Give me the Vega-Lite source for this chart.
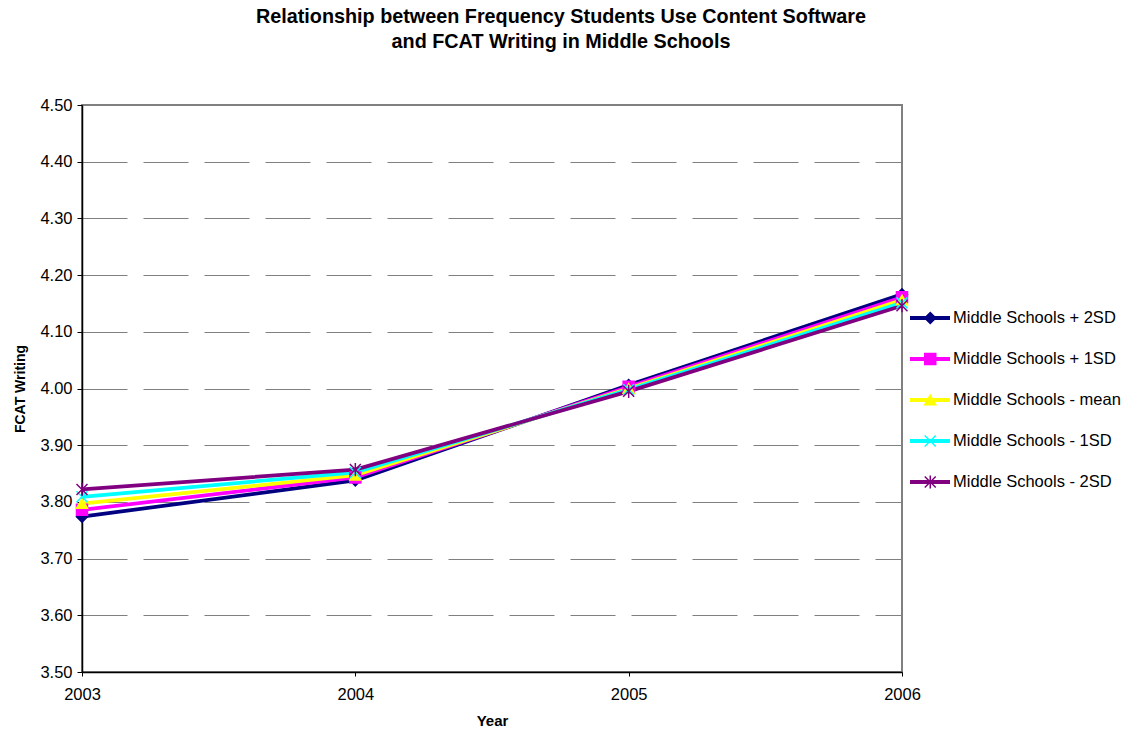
{
  "$schema": "https://vega.github.io/schema/vega-lite/v6.json",
  "autosize": {"type": "none"},
  "width": 820,
  "height": 567,
  "padding": {"left": 82, "top": 105, "right": 231, "bottom": 61},
  "background": "white",
  "config": {
    "font": "Liberation Sans",
    "view": {"stroke": "#808080", "strokeWidth": 2},
    "axis": {"labelColor": "black", "titleColor": "black", "labelFont": "Liberation Sans", "titleFont": "Liberation Sans"}
  },
  "title": {
    "text": ["Relationship between Frequency Students Use Content Software", "and FCAT Writing in Middle Schools"],
    "font": "Liberation Sans",
    "fontSize": 19.8,
    "fontWeight": "bold",
    "color": "black",
    "lineHeight": 25,
    "anchor": "middle",
    "frame": "group",
    "dx": 69,
    "offset": 45
  },
  "data": {
    "values": [
      {"series": "Middle Schools + 2SD", "order": 1, "year": 2003, "value": 3.774},
      {"series": "Middle Schools + 2SD", "order": 1, "year": 2004, "value": 3.838},
      {"series": "Middle Schools + 2SD", "order": 1, "year": 2005, "value": 4.006},
      {"series": "Middle Schools + 2SD", "order": 1, "year": 2006, "value": 4.166},
      {"series": "Middle Schools + 1SD", "order": 2, "year": 2003, "value": 3.786},
      {"series": "Middle Schools + 1SD", "order": 2, "year": 2004, "value": 3.843},
      {"series": "Middle Schools + 1SD", "order": 2, "year": 2005, "value": 4.003},
      {"series": "Middle Schools + 1SD", "order": 2, "year": 2006, "value": 4.161},
      {"series": "Middle Schools - mean", "order": 3, "year": 2003, "value": 3.797},
      {"series": "Middle Schools - mean", "order": 3, "year": 2004, "value": 3.847},
      {"series": "Middle Schools - mean", "order": 3, "year": 2005, "value": 4.0},
      {"series": "Middle Schools - mean", "order": 3, "year": 2006, "value": 4.156},
      {"series": "Middle Schools - 1SD", "order": 4, "year": 2003, "value": 3.809},
      {"series": "Middle Schools - 1SD", "order": 4, "year": 2004, "value": 3.852},
      {"series": "Middle Schools - 1SD", "order": 4, "year": 2005, "value": 3.998},
      {"series": "Middle Schools - 1SD", "order": 4, "year": 2006, "value": 4.151},
      {"series": "Middle Schools - 2SD", "order": 5, "year": 2003, "value": 3.822},
      {"series": "Middle Schools - 2SD", "order": 5, "year": 2004, "value": 3.857},
      {"series": "Middle Schools - 2SD", "order": 5, "year": 2005, "value": 3.995},
      {"series": "Middle Schools - 2SD", "order": 5, "year": 2006, "value": 4.146}
    ]
  },
  "encoding": {
    "x": {
      "field": "year",
      "type": "quantitative",
      "scale": {"domain": [2003, 2006], "nice": false, "zero": false},
      "axis": {
        "title": "Year",
        "titleFontSize": 15,
        "titleFontWeight": "bold",
        "titlePadding": 11,
        "values": [2003, 2004, 2005, 2006],
        "format": "d",
        "grid": false,
        "labelFontSize": 16.5,
        "labelPadding": 10,
        "labelFlush": false,
        "tickSize": 4,
        "tickColor": "black",
        "domainColor": "black",
        "domainWidth": 1.5
      }
    },
    "y": {
      "field": "value",
      "type": "quantitative",
      "scale": {"domain": [3.5, 4.5], "nice": false, "zero": false},
      "axis": {
        "title": "FCAT Writing",
        "titleFontSize": 14,
        "titleFontWeight": "bold",
        "titlePadding": 12,
        "values": [3.5, 3.6, 3.7, 3.8, 3.9, 4.0, 4.1, 4.2, 4.3, 4.4, 4.5],
        "format": ".2f",
        "labelFontSize": 16.5,
        "labelPadding": 5,
        "tickSize": 5,
        "tickColor": "black",
        "domainColor": "black",
        "domainWidth": 1.5,
        "grid": true,
        "gridColor": "#808080",
        "gridDash": [45, 16],
        "gridWidth": 1
      }
    }
  },
  "layer": [
    {
      "mark": {"type": "line", "strokeWidth": 3.75},
      "encoding": {
        "color": {
          "field": "series",
          "type": "nominal",
          "scale": {
            "domain": ["Middle Schools + 2SD", "Middle Schools + 1SD", "Middle Schools - mean", "Middle Schools - 1SD", "Middle Schools - 2SD"],
            "range": ["#000080", "#FF00FF", "#FFFF00", "#00FFFF", "#800080"]
          },
          "legend": {
            "title": null,
            "orient": "none",
            "legendX": 826,
            "legendY": 205,
            "padding": 0,
            "symbolType": "stroke",
            "symbolSize": 1600,
            "symbolStrokeWidth": 4,
            "clipHeight": 16,
            "rowPadding": 24,
            "labelFontSize": 16.5,
            "labelFont": "Liberation Sans",
            "labelColor": "black",
            "labelOffset": 1,
            "labelLimit": 300
          }
        }
      }
    },
    {
      "mark": {"type": "point", "filled": true, "size": 121, "strokeWidth": 1.5, "opacity": 1},
      "encoding": {
        "fill": {
          "field": "series",
          "type": "nominal",
          "sort": {"field": "order"},
          "scale": {"range": ["#000080", "#FF00FF", "#FFFF00", "#00FFFF", "#800080"]},
          "legend": {
            "title": null,
            "orient": "none",
            "legendX": 826,
            "legendY": 205,
            "padding": 0,
            "symbolSize": 121,
            "symbolStrokeWidth": 1.5,
            "symbolOffset": 14,
            "clipHeight": 16,
            "rowPadding": 24,
            "labelFontSize": 16.5,
            "labelExpr": "''"
          }
        },
        "stroke": {
          "field": "series",
          "type": "nominal",
          "sort": {"field": "order"},
          "scale": {"range": ["#000080", "#FF00FF", "#FFFF00", "#00FFFF", "#800080"]}
        },
        "shape": {
          "field": "series",
          "type": "nominal",
          "sort": {"field": "order"},
          "scale": {"range": ["diamond", "square", "triangle-up", "M-1,-1L1,1M-1,1L1,-1", "M-1,-1L1,1M-1,1L1,-1M0,-1.2L0,1.2"]}
        }
      }
    }
  ]
}
